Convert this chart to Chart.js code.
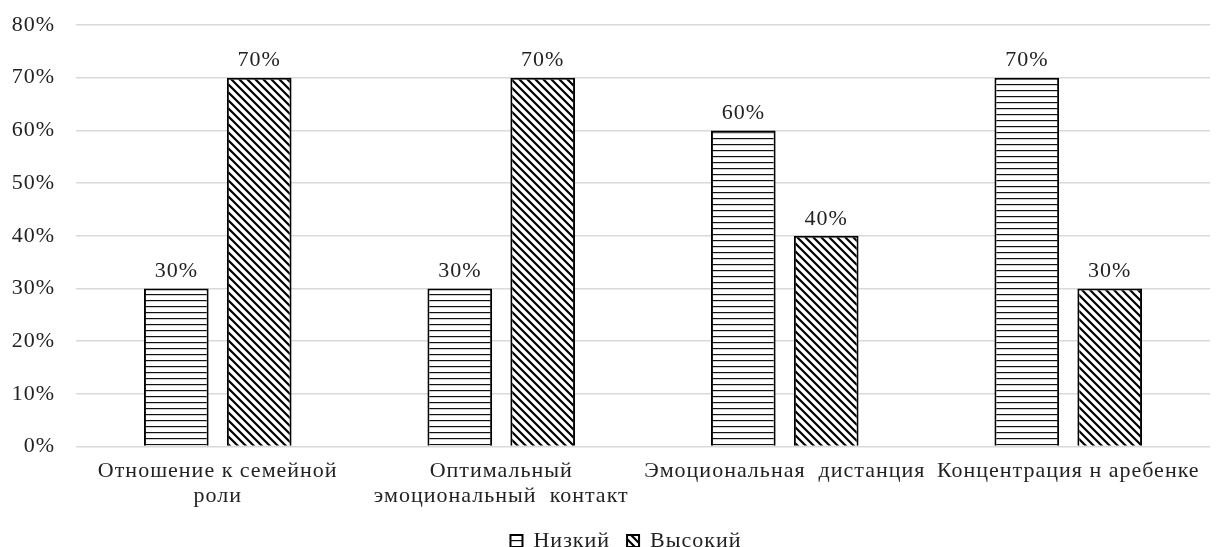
<!DOCTYPE html>
<html>
<head>
<meta charset="utf-8">
<script src="https://cdn.jsdelivr.net/npm/chart.js@4/dist/chart.umd.min.js"></script>
<style>
  html, body { margin: 0; padding: 0; background: #fff; }
  #wrap { width: 1218px; height: 547px; }
</style>
</head>
<body>
<div id="wrap"><canvas id="chart"></canvas></div>
<script>
'use strict';

// chart data
let categories = [
    ['Отношение к семейной', 'роли'],
    ['Оптимальный', 'эмоциональный  контакт'],
    'Эмоциональная  дистанция',
    'Концентрация н аребенке'
];
let seriesNames = ['Низкий', 'Высокий'];
let lowValues = [30, 30, 60, 70];
let highValues = [70, 70, 40, 30];
let yTicks = [0, 10, 20, 30, 40, 50, 60, 70, 80];

// horizontal lines fill
function makeHorizontalPattern() {
    let c = document.createElement('canvas');
    c.width = 6; c.height = 6;
    let ctx = c.getContext('2d');
    ctx.fillStyle = '#fff';
    ctx.fillRect(0, 0, 6, 6);
    ctx.fillStyle = '#111';
    ctx.fillRect(0, 0, 6, 1.2);
    return ctx.createPattern(c, 'repeat');
}

// diagonal "\" lines fill
function makeDiagonalPattern() {
    let s = 8;
    let c = document.createElement('canvas');
    c.width = s; c.height = s;
    let ctx = c.getContext('2d');
    ctx.fillStyle = '#fff';
    ctx.fillRect(0, 0, s, s);
    ctx.strokeStyle = '#000';
    ctx.lineWidth = 2.2;
    ctx.beginPath();
    ctx.moveTo(-s, -s); ctx.lineTo(2 * s, 2 * s);
    ctx.moveTo(-s, 0); ctx.lineTo(s, 2 * s);
    ctx.moveTo(0, -s); ctx.lineTo(2 * s, s);
    ctx.stroke();
    return ctx.createPattern(c, 'repeat');
}

// the source text is set a little wider than Liberation Serif
let wideText = {
    id: 'wideText',
    beforeLayout(chart) { chart.ctx.letterSpacing = '1px'; },
    beforeDraw(chart) { chart.ctx.letterSpacing = '1px'; }
};

// legend in the source sits a bit right of the centre
let legendShift = {
    id: 'legendShift',
    afterLayout(chart) {
        if (chart.legend) {
            chart.legend.left += 21;
            chart.legend.right += 21;
        }
    }
};

// value text above each bar
let valueLabels = {
    id: 'valueLabels',
    afterDatasetsDraw(chart) {
        let ctx = chart.ctx;
        ctx.save();
        ctx.font = '22px "Liberation Serif", "Times New Roman", serif';
        ctx.fillStyle = '#222';
        ctx.textAlign = 'center';
        ctx.textBaseline = 'bottom';
        chart.data.datasets.forEach(function(ds, i) {
            chart.getDatasetMeta(i).data.forEach(function(bar, j) {
                ctx.fillText(ds.data[j] + '%', bar.x, bar.y - 6);
            });
        });
        ctx.restore();
    }
};

Chart.defaults.font.family = '"Liberation Serif", "Times New Roman", serif';
Chart.defaults.font.size = 22;
Chart.defaults.color = '#222';

let ctx = document.getElementById('chart').getContext('2d');
let chart = new Chart(ctx, {
    type: 'bar',
    data: {
        labels: categories,
        datasets: [{
            label: seriesNames[0],
            data: lowValues,
            backgroundColor: makeHorizontalPattern(),
            borderColor: '#000',
            borderWidth: 2
        }, {
            label: seriesNames[1],
            data: highValues,
            backgroundColor: makeDiagonalPattern(),
            borderColor: '#000',
            borderWidth: 2
        }]
    },
    options: {
        responsive: true,
        maintainAspectRatio: false,
        animation: false,
        datasets: {
            bar: { categoryPercentage: 0.585, barPercentage: 0.78 }
        },
        layout: { padding: { left: 0, right: 8, top: 0, bottom: -15 } },
        scales: {
            x: {
                grid: { display: false },
                border: { display: false },
                ticks: {
                    padding: 5,
                    maxRotation: 0,
                    autoSkip: false,
                    font: { size: 22, lineHeight: 1.1 }
                },
                afterFit(axis) {
                    axis.paddingLeft = 0;
                    axis.paddingRight = 0;
                }
            },
            y: {
                min: 0,
                max: 80,
                afterBuildTicks(axis) {
                    axis.ticks = yTicks.map(v => ({ value: v }));
                },
                ticks: {
                    padding: 21,
                    font: { size: 22 },
                    callback: v => v + '%'
                },
                grid: { color: '#d9d9d9', lineWidth: 1.5, drawTicks: false },
                border: { display: false },
                afterFit(axis) {
                    axis.width = 76;
                    axis.paddingTop = 25;
                }
            }
        },
        plugins: {
            legend: {
                position: 'bottom',
                labels: {
                    boxWidth: 12,
                    boxHeight: 12,
                    padding: 17,
                    font: { size: 22 }
                }
            },
            tooltip: { enabled: false }
        }
    },
    plugins: [wideText, legendShift, valueLabels]
});
</script>
</body>
</html>
